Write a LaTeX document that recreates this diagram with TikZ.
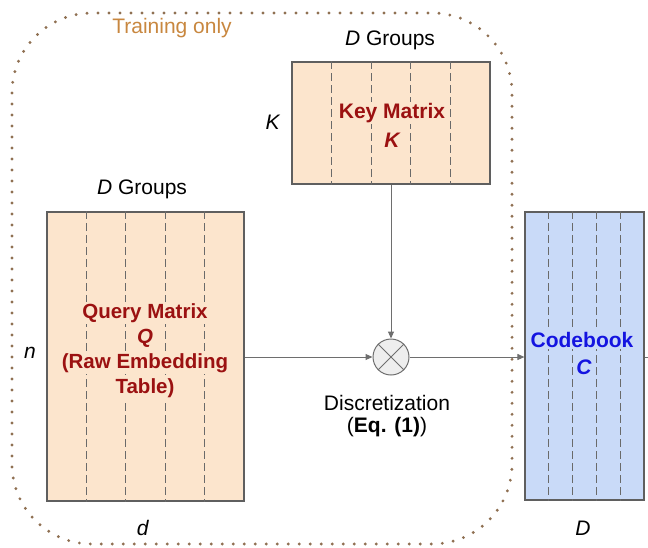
\documentclass[tikz,border=0pt]{standalone}
\usepackage{fontspec}
\setmainfont{Liberation Sans}
\usetikzlibrary{arrows.meta,calc}

\definecolor{peach}{HTML}{FCE5CD}
\definecolor{skyfill}{HTML}{C9DAF8}
\definecolor{boxline}{HTML}{5F5F5F}
\definecolor{dashline}{HTML}{6A6A6A}
\definecolor{darkred}{HTML}{9B1111}
\definecolor{codeblue}{HTML}{1414E0}
\definecolor{trainorange}{HTML}{C8873F}
\definecolor{dotbrown}{HTML}{8F7052}
\definecolor{wire}{HTML}{6E6E6E}
\definecolor{mixfill}{HTML}{EEEEEE}

\tikzset{
  txt/.style={font=\fontsize{21}{25}\selectfont, inner sep=0pt},
  matbox/.style={draw=boxline, line width=1.2pt, inner sep=0pt},
  divider/.style={draw=dashline, line width=1pt, dash pattern=on 8pt off 4pt},
  redlbl/.style={font=\fontsize{21}{25}\selectfont\bfseries, text=darkred, inner sep=1pt},
  qlbl/.style={font=\fontsize{20.5}{24}\selectfont\bfseries, text=darkred, fill=peach, inner sep=1pt},
  bluelbl/.style={font=\fontsize{21}{25}\selectfont\bfseries, text=codeblue, fill=skyfill, inner sep=1pt},
  flow/.style={draw=wire, line width=1pt, -{Triangle[length=7pt,width=6pt]}},
  trainborder/.style={draw=dotbrown, line width=3.2pt, line cap=round,
    dash pattern=on 0pt off 11pt, rounded corners=80pt},
}

\begin{document}
\begin{tikzpicture}[x=1pt,y=-1pt]
\useasboundingbox (0,0) rectangle (648,547);

% dotted region of the training-only part
\draw[trainborder] (12,13) rectangle (512,544);
\node[txt, text=trainorange] (train) at (172,28) {Training only};

% key matrix
\node[matbox, fill=peach, minimum width=198pt, minimum height=122pt] (key) at (391,123) {};
\foreach \i in {1,...,4}
  \draw[divider] ($(key.north west)!\i/5!(key.north east)$) -- ($(key.south west)!\i/5!(key.south east)$);
\node[redlbl, fill=peach] (keyname) at (392,113) {Key Matrix};
\node[redlbl, fill=peach] (keysym) at (392,140) {\itshape K};
\node[txt] (keygroups) at (390,40) {\textit{D} Groups};
\node[txt] (keyrows) at (273,122) {\textit{K}};

% query matrix
\node[matbox, fill=peach, minimum width=197pt, minimum height=289pt] (query) at (145.5,356.5) {};
\foreach \i in {1,...,4}
  \draw[divider] ($(query.north west)!\i/5!(query.north east)$) -- ($(query.south west)!\i/5!(query.south east)$);
\node[qlbl] (qname) at (145,313) {Query Matrix};
\node[qlbl] (qsym) at (145,338) {\itshape Q};
\node[qlbl] (qraw) at (145,363) {(Raw Embedding};
\node[qlbl] (qtab) at (145,388) {Table)};
\node[txt] (qgroups) at (142,189) {\textit{D} Groups};
\node[txt] (qrows) at (30,353) {\textit{n}};
\node[txt] (qcols) at (143,528) {\textit{d}};

% codebook
\node[matbox, fill=skyfill, minimum width=119pt, minimum height=288pt] (code) at (584.5,356) {};
\foreach \i in {1,...,4}
  \draw[divider] ($(code.north west)!\i/5!(code.north east)$) -- ($(code.south west)!\i/5!(code.south east)$);
\node[bluelbl] (codename) at (582,340) {Codebook};
\node[bluelbl] (codesym) at (584,367) {\itshape C};
\node[txt] (codecols) at (583,528) {\textit{D}};

% discretization operator
\node[circle, draw=wire, fill=mixfill, line width=1pt, minimum size=36pt, inner sep=0pt] (mix) at (391,357) {};
\draw[wire, line width=1pt] (mix.north west) -- (mix.south east) (mix.north east) -- (mix.south west);
\node[txt, align=center, font=\fontsize{21}{22}\selectfont] (disc) at (387,416) {Discretization\\(\textbf{Eq. (1)})};

% connectors
\draw[flow] (query.east |- mix.west) -- (mix.west);
\draw[flow] (key.south) -- (mix.north);
\draw[flow] (mix.east) -- (code.west |- mix.east);
\coordinate (exit) at (648,357);
\draw[draw=wire, line width=1pt] (code.east |- mix.east) -- (exit);
\end{tikzpicture}
\end{document}
